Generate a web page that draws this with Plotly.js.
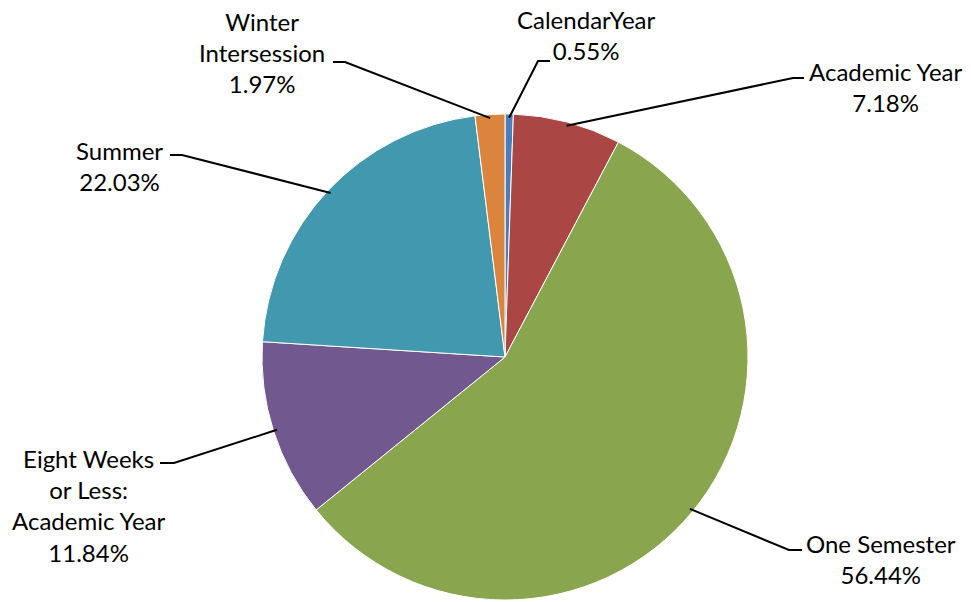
<!DOCTYPE html>
<html>
<head>
<meta charset="utf-8">
<script src="https://cdn.plot.ly/plotly-3.0.1.min.js"></script>
<style>html,body{margin:0;padding:0;background:#fff;}#chart{width:971px;height:602px;}</style>
</head>
<body>
<div id="chart"></div>
<script>
// ---- data ----
const categories = ["CalendarYear", "Academic Year", "One Semester", "Eight Weeks<br>or Less:<br>Academic Year", "Summer", "Winter<br>Intersession"];
const labelLines = ["CalendarYear", "Academic Year", "One Semester", "Eight Weeks<br>or Less:<br>Academic Year", "Summer", "Winter<br>Intersession"];
const shares = [0.55, 7.18, 56.44, 11.84, 22.03, 1.97];
const colors = ["#4A7EBB", "#AA4643", "#89A54E", "#71588F", "#4198AF", "#DB843D"];

// ---- layout geometry (pixels) ----
const W = 971, H = 602;
const cx = 505, cy = 357, R = 243;
// label block centre, elbow point, horizontal end (px) per slice
const labelPos = [
  {x: 586, y: 35,  ex: 538, ey: 61,  hx: 550},
  {x: 886, y: 87,  ex: 793, ey: 78,  hx: 804},
  {x: 881, y: 559, ex: 789, ey: 550, hx: 802},
  {x: 89,  y: 505, ex: 174, ey: 463, hx: 160},
  {x: 119, y: 166, ex: 182, ey: 155, hx: 170},
  {x: 262, y: 52,  ex: 345, ey: 62,  hx: 333}
];
const px = v => v / W;
const py = v => 1 - v / H;

const total = shares.reduce((a, b) => a + b, 0);
let cum = 0;
const shapes = [], annotations = [];
shares.forEach((v, i) => {
  const mid = (cum + v / 2) / total * 2 * Math.PI;
  cum += v;
  const r = R * 0.985;
  const ax = cx + r * Math.sin(mid);
  const ay = cy - r * Math.cos(mid);
  const L = labelPos[i];
  shapes.push({
    type: 'path', xref: 'paper', yref: 'paper',
    path: `M ${px(ax)},${py(ay)} L ${px(L.ex)},${py(L.ey)} L ${px(L.hx)},${py(L.ey)}`,
    line: {color: '#000', width: 2}
  });
  annotations.push({
    xref: 'paper', yref: 'paper', x: px(L.x), y: py(L.y),
    xanchor: 'center', yanchor: 'middle', align: 'center', showarrow: false,
    text: labelLines[i] + '<br>' + v.toFixed(2) + '%',
    font: {family: 'Lato, sans-serif', size: 24, color: '#000'}
  });
});

const trace = {
  type: 'pie',
  labels: categories,
  values: shares,
  sort: false,
  direction: 'clockwise',
  rotation: 0,
  textinfo: 'none',
  hoverinfo: 'label+percent',
  marker: {colors: colors, line: {color: '#ffffff', width: 1}},
  domain: {x: [px(cx - R), px(cx + R)], y: [py(cy + R), py(cy - R)]},
  showlegend: false
};

const layout = {
  width: W, height: H,
  margin: {l: 0, r: 0, t: 0, b: 0},
  paper_bgcolor: '#fff',
  plot_bgcolor: '#fff',
  showlegend: false,
  shapes: shapes,
  annotations: annotations
};

Plotly.newPlot('chart', [trace], layout, {displayModeBar: false, staticPlot: true});
</script>
</body>
</html>
